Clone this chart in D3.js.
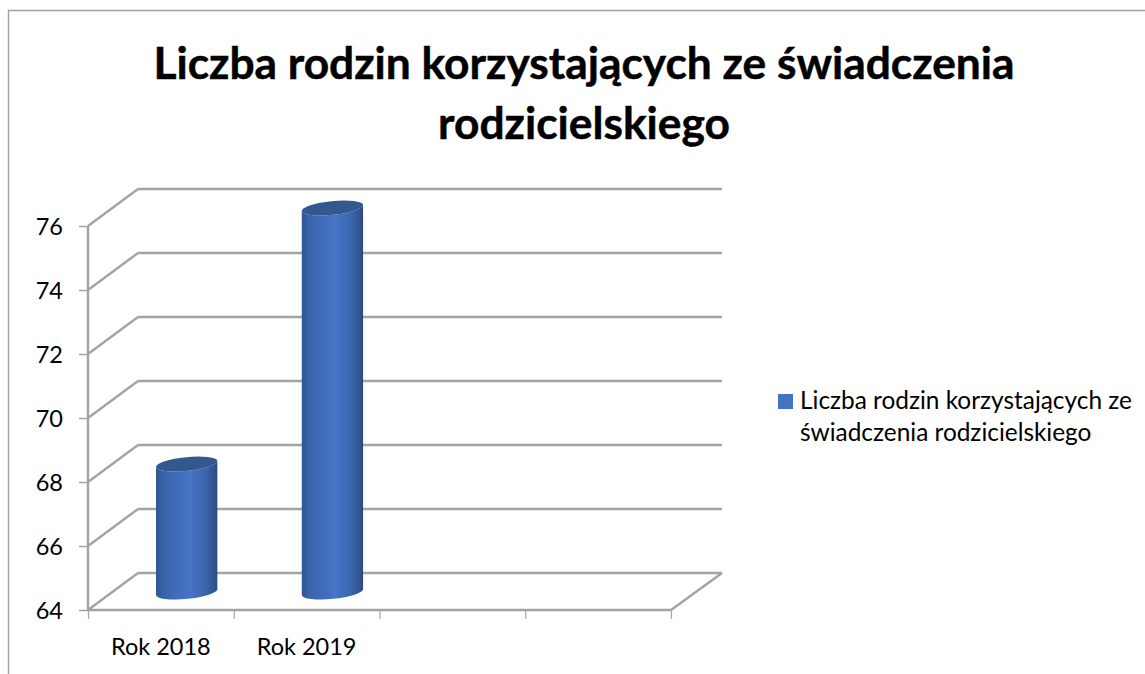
<!DOCTYPE html>
<html><head><meta charset="utf-8">
<script src="https://cdn.jsdelivr.net/npm/d3@7"></script>
<style>html,body{margin:0;padding:0;background:#fff}svg{display:block}text{font-family:Lato,"Open Sans",sans-serif;fill:#000}</style>
</head><body><svg id="c" width="1145" height="674"></svg>
<script>
const titleLines = ["Liczba rodzin korzystających ze świadczenia", "rodzicielskiego"];
const categories = ["Rok 2018", "Rok 2019", "", ""];
const values = [68, 76];
const yTicks = [64, 66, 68, 70, 72, 74, 76];
const legendLines = ["Liczba rodzin korzystających ze", "świadczenia rodzicielskiego"];

const svg = d3.select("#c");
const W = 1145, H = 674;
const axisCol = "#a3a3a3";
const depthX = 50, depthY = 37;

const x = d3.scaleBand().domain(categories.map((d,i)=>i)).range([88, 671]).paddingInner(0).paddingOuter(0);
const y = d3.scaleLinear().domain([64, 76]).range([610, 226]);

// frame
svg.append("path").attr("d", `M8.5,${H}V10.5H${W}`).attr("fill","none").attr("stroke","#a0a0a0").attr("stroke-width",1.4);

// title
svg.append("g").selectAll("text").data(titleLines).join("text")
  .attr("x", 584).attr("y",(d,i)=>79+i*60).attr("text-anchor","middle")
  .attr("font-size",44.3).attr("font-weight",700).attr("stroke","#000").attr("stroke-width",0.5).text(d=>d);

// back gridlines and side walls
const g = svg.append("g").attr("stroke",axisCol).attr("stroke-width",2.4).attr("fill","none");
g.selectAll("line.grid").data(yTicks).join("line").attr("class","grid")
  .attr("x1",88+depthX).attr("x2",671+depthX+1)
  .attr("y1",d=>y(d)-depthY).attr("y2",d=>y(d)-depthY);
g.selectAll("line.side").data(yTicks).join("line").attr("class","side")
  .attr("x1",88).attr("x2",88+depthX)
  .attr("y1",d=>y(d)).attr("y2",d=>y(d)-depthY);
g.append("line").attr("x1",671).attr("x2",671+depthX+1).attr("y1",y(64)).attr("y2",y(64)-depthY);

// axes
const yAxis = d3.axisLeft(y).tickValues(yTicks).tickSize(9).tickPadding(16).tickFormat(d3.format("d"));
const ya = svg.append("g").attr("transform","translate(88,0)").call(yAxis);
ya.selectAll("text").attr("font-size",23.5).attr("dy","0.36em");
ya.select(".domain").attr("d",`M0,${y(64)}V${y(76)}`).attr("stroke",axisCol).attr("stroke-width",2.4);
ya.selectAll(".tick line").attr("stroke",axisCol).attr("stroke-width",1.5);

const xAxis = d3.axisBottom(d3.scaleLinear().domain([0,4]).range([88,671])).tickValues([0,1,2,3,4]).tickSize(9).tickFormat("");
const xa = svg.append("g").attr("transform",`translate(0,${y(64)})`).call(xAxis);
xa.select(".domain").attr("d","M88,0H671").attr("stroke",axisCol).attr("stroke-width",2.4);
xa.selectAll(".tick line").attr("stroke",axisCol).attr("stroke-width",1.2);

svg.append("g").selectAll("text").data(categories.filter(d=>d)).join("text")
  .attr("x",(d,i)=>x(i)+x.bandwidth()/2).attr("y",655).attr("text-anchor","middle")
  .attr("font-size",23.5).text(d=>d);

// gradient
const defs = svg.append("defs");
const grad = defs.append("linearGradient").attr("id","cyl").attr("x1","0").attr("x2","1").attr("y1","0").attr("y2","0");
[[0,"#30558f"],[0.12,"#3a63ab"],[0.55,"#4674c8"],[0.8,"#3b65ae"],[0.95,"#2f5390"],[1,"#2a4a7e"]]
  .forEach(s=>grad.append("stop").attr("offset",s[0]).attr("stop-color",s[1]));

// cylinders
const rx = 30.8, ry = 6.9, rot = -5.6, dyBar = 18, dxBar = 25.8;
const rad = rot*Math.PI/180, ex = rx*Math.cos(rad), ey = rx*Math.sin(rad);
const bars = svg.append("g");
values.forEach((v,i)=>{
  const cx = x(i)+x.bandwidth()/2+dxBar, yT = y(v)-dyBar, yB = y(64)-dyBar;
  bars.append("path").attr("fill","url(#cyl)")
    .attr("d",`M${cx-ex},${yT-ey}L${cx-ex},${yB-ey}A${rx},${ry} ${rot} 0 0 ${cx+ex},${yB+ey}L${cx+ex},${yT+ey}A${rx},${ry} ${rot} 0 1 ${cx-ex},${yT-ey}Z`);
  bars.append("ellipse").attr("cx",cx).attr("cy",yT).attr("rx",rx).attr("ry",ry)
    .attr("transform",`rotate(${rot} ${cx} ${yT})`).attr("fill","#32588f");
});

// legend
svg.append("rect").attr("x",778).attr("y",394).attr("width",15).attr("height",15).attr("fill","#4472c4");
svg.append("g").selectAll("text").data(legendLines).join("text")
  .attr("x",800).attr("y",(d,i)=>409+i*32).attr("font-size",24.4).text(d=>d);
</script></body></html>
